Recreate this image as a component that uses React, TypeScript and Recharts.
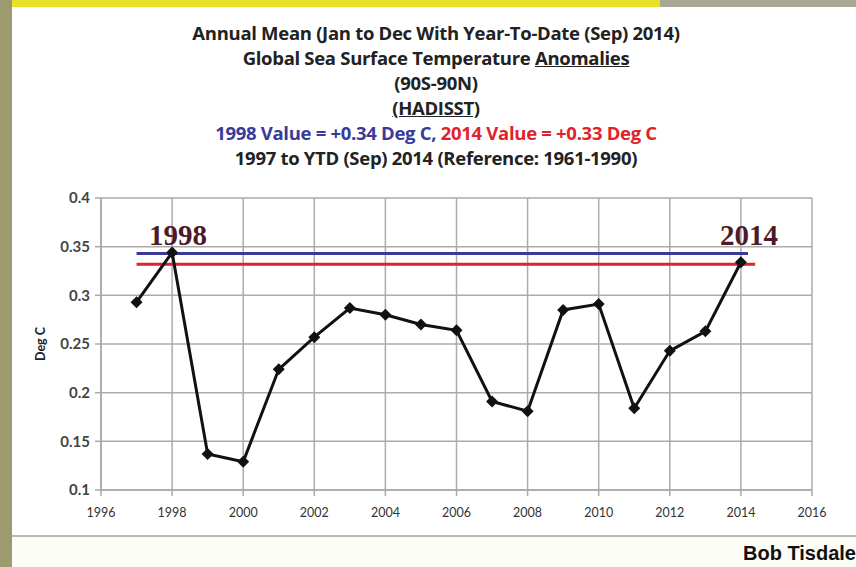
import React from 'react';
import { ComposedChart, Line, XAxis, YAxis, CartesianGrid, ReferenceDot } from 'recharts';

const years = [1997, 1998, 1999, 2000, 2001, 2002, 2003, 2004, 2005, 2006, 2007, 2008, 2009, 2010, 2011, 2012, 2013, 2014];
const anomalies = [0.293, 0.344, 0.137, 0.129, 0.224, 0.257, 0.287, 0.280, 0.270, 0.264, 0.191, 0.181, 0.285, 0.291, 0.184, 0.243, 0.263, 0.334];
const blueYears = [1997, 2014.2];
const redYears = [1997, 2014.4];
const value1998 = 0.343;
const value2014 = 0.332;
const xTicks = [1996, 1998, 2000, 2002, 2004, 2006, 2008, 2010, 2012, 2014, 2016];
const yTicks = [0.1, 0.15, 0.2, 0.25, 0.3, 0.35, 0.4];
const titleLines = [
  'Annual Mean (Jan to Dec With Year-To-Date (Sep) 2014)',
  'Global Sea Surface Temperature ',
  '(90S-90N)',
  '(HADISST)',
];

const data = years.map((y, i) => ({ year: y, v: anomalies[i] }));
const blueData = blueYears.map((y) => ({ year: y, b: value1998 }));
const redData = redYears.map((y) => ({ year: y, r: value2014 }));

const Diamond = (props: any) => {
  const { cx, cy } = props;
  if (cx == null || cy == null) return null;
  const s = 6;
  return <polygon points={`${cx},${cy - s} ${cx + s},${cy} ${cx},${cy + s} ${cx - s},${cy}`} fill="#111" />;
};

const YearLabel = (text: string, dx: number) => (props: any) => {
  const { viewBox } = props;
  const x = viewBox.x + (viewBox.width || 0) / 2 + dx;
  const y = viewBox.y + (viewBox.height || 0) / 2;
  return (
    <text x={x} y={y} textAnchor="middle" dominantBaseline="central" fontFamily="'Liberation Serif', 'DejaVu Serif', serif" fontSize={29} fontWeight="bold" fill="#4e1a28">
      {text}
    </text>
  );
};

const font = "Lato, 'Open Sans', sans-serif";
const titleFont = "'Open Sans', Lato, sans-serif";

export default function App() {
  return (
    <div style={{ position: 'absolute', left: 0, top: 0, width: 856, height: 567, background: '#fdfdf8', overflow: 'hidden', fontFamily: font }}>
      <div style={{ position: 'absolute', left: 0, top: 0, width: 12, height: 567, background: '#9c9a6e' }} />
      <div style={{ position: 'absolute', left: 12, top: 0, width: 648, height: 7, background: '#e6e22a' }} />
      <div style={{ position: 'absolute', left: 660, top: 0, width: 196, height: 7, background: '#a9a892' }} />
      <div style={{ position: 'absolute', left: 12, top: 7, width: 844, height: 528, background: '#ffffff', borderBottom: '2px solid #b8b8b8' }} />
      <div style={{ position: 'absolute', left: 0, top: 20, width: 872, textAlign: 'center', fontFamily: titleFont, fontWeight: 'bold', fontSize: 18.5, letterSpacing: -0.3, lineHeight: '25px', color: '#222' }}>
        <div>{titleLines[0]}</div>
        <div>{titleLines[1]}<span style={{ textDecoration: 'underline' }}>Anomalies</span></div>
        <div>{titleLines[2]}</div>
        <div style={{ textDecoration: 'underline' }}>{titleLines[3]}</div>
        <div>
          <span style={{ color: '#3a3a9a' }}>1998 Value = +0.34 Deg C, </span>
          <span style={{ color: '#e0222a' }}>2014 Value = +0.33 Deg C</span>
        </div>
        <div>1997 to YTD (Sep) 2014 (Reference: 1961-1990)</div>
      </div>
      <div style={{ position: 'absolute', right: 0, top: 542, fontFamily: "'Liberation Sans', Arial, sans-serif", fontWeight: 'bold', fontSize: 20, color: '#111' }}>
        Bob Tisdale
      </div>
      <div style={{ position: 'absolute', left: 0, top: 0 }}>
        <ComposedChart width={856} height={567} margin={{ top: 198, right: 44, bottom: 47, left: 41 }}>
          <CartesianGrid stroke="#ababab" strokeWidth={1.5} />
          <XAxis
            dataKey="year"
            type="number"
            domain={[1996, 2016]}
            ticks={xTicks}
            allowDuplicatedCategory={false}
            height={30}
            stroke="#a8a8a8"
            strokeWidth={1.5}
            tickSize={6}
            tick={{ fill: '#333', fontSize: 12.5, fontFamily: font }}
            tickMargin={12}
          />
          <YAxis
            type="number"
            domain={[0.1, 0.4]}
            ticks={yTicks}
            width={60}
            stroke="#a8a8a8"
            strokeWidth={1.5}
            tickSize={6}
            tick={{ fill: '#444', fontSize: 15, fontWeight: 'bold', fontFamily: font }}
            tickMargin={5}
            label={{ value: 'Deg C', angle: -90, position: 'insideLeft', offset: 0, style: { fill: '#222', fontSize: 12.5, fontWeight: 'bold', fontFamily: font, textAnchor: 'middle' } }}
          />
          <Line data={blueData} dataKey="b" stroke="#3a3a9a" strokeWidth={3} dot={false} isAnimationActive={false} />
          <Line data={redData} dataKey="r" stroke="#e0222a" strokeWidth={3} dot={false} isAnimationActive={false} />
          <Line data={data} dataKey="v" stroke="#111" strokeWidth={3} dot={<Diamond />} activeDot={false} isAnimationActive={false} />
          <ReferenceDot x={1998} y={0.362} r={0} fill="none" stroke="none" label={YearLabel('1998', 6)} />
          <ReferenceDot x={2014} y={0.362} r={0} fill="none" stroke="none" label={YearLabel('2014', 8)} />
        </ComposedChart>
      </div>
    </div>
  );
}
